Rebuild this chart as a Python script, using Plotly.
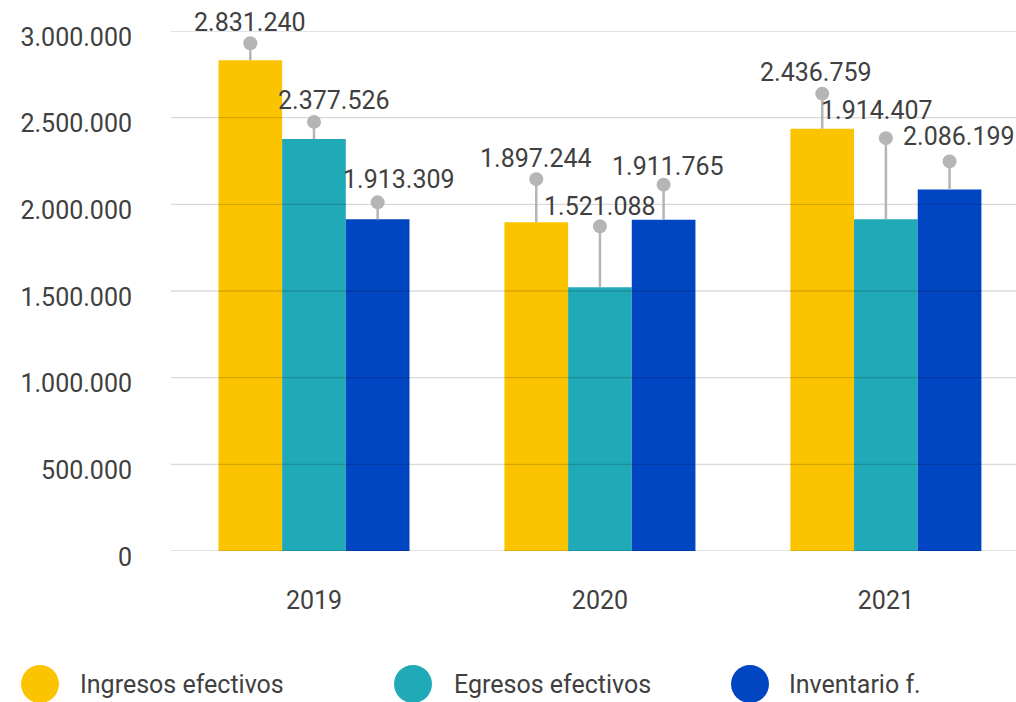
import plotly.graph_objects as go

# Cash flow by year
years = ["2019", "2020", "2021"]
ingresos = [2831240, 1897244, 2436759]
egresos = [2377526, 1521088, 1914407]
inventario = [1913309, 1911765, 2086199]

series_names = ["Ingresos efectivos", "Egresos efectivos", "Inventario f."]
series_colors = ["#FCC400", "#20A9B7", "#0045C1"]
y_ticks = [0, 500000, 1000000, 1500000, 2000000, 2500000, 3000000]

# Label placement (pixels above each bar top) and horizontal nudges, per year then series
label_lift = [[38, 38, 40], [64, 81, 53], [56, 109, 53]]
label_nudge = [[0, 20, 21], [0, 0, 4], [-6, -9, 9]]
dot_lift = [[18, 18, 18], [44, 62, 36], [36, 82, 29]]

W, H = 1016, 702
M_L, M_R, M_T, M_B = 171, 0, 31, 151
X_RANGE = [-0.5, 2.455]
BARGAP = 0.332
TEXT = "#404040"
FONT = "Roboto"


def fmt(v):
    return f"{v:,}".replace(",", ".")


plot_w = W - M_L - M_R
plot_h = H - M_T - M_B
bar_px = plot_w / (X_RANGE[1] - X_RANGE[0]) * (1 - BARGAP) / 3


def px_to_paper_x(px):
    return (px - M_L) / plot_w


def px_to_paper_y(py):
    return (H - M_B - py) / plot_h


fig = go.Figure()
all_values = [ingresos, egresos, inventario]
for name, vals, color in zip(series_names, all_values, series_colors):
    fig.add_trace(go.Bar(x=years, y=vals, name=name, marker=dict(color=color, line=dict(width=0)),
                         showlegend=False, hoverinfo="skip"))

annotations = []
for i, yr in enumerate(years):
    for j, vals in enumerate(all_values):
        shift = (j - 1) * bar_px
        # leader line with a round end (x given as the category index)
        annotations.append(dict(
            x=i, y=vals[i], xref="x", yref="y", xshift=shift,
            text=" ", font=dict(size=1), borderpad=0,
            showarrow=True, arrowside="start", startarrowhead=6, startarrowsize=1.4,
            arrowwidth=2.5, arrowcolor="#B5B5B5", ax=0, ay=-dot_lift[i][j],
        ))
        # value label
        annotations.append(dict(
            x=i, y=vals[i], xref="x", yref="y",
            xshift=shift + label_nudge[i][j], yshift=label_lift[i][j],
            text=fmt(vals[i]), showarrow=False, yanchor="middle", xanchor="center",
            font=dict(family=FONT, size=25, color=TEXT),
        ))

# legend drawn along the bottom
legend_circle_px = [40, 413, 750]
legend_text_px = [78, 452, 787]
legend_y_px = 684
shapes = []
for cx, color in zip(legend_circle_px, series_colors):
    shapes.append(dict(
        type="circle", xref="paper", yref="paper", xsizemode="pixel", ysizemode="pixel",
        xanchor=px_to_paper_x(cx), yanchor=px_to_paper_y(legend_y_px),
        x0=-19, x1=19, y0=-19, y1=19, fillcolor=color, line=dict(width=0),
    ))
for tx, name in zip(legend_text_px, series_names):
    annotations.append(dict(
        x=px_to_paper_x(tx), y=px_to_paper_y(legend_y_px), xref="paper", yref="paper",
        text=name, showarrow=False, xanchor="left", yanchor="middle",
        font=dict(family=FONT, size=25, color=TEXT),
    ))

# horizontal grid drawn over the bars
for t in y_ticks:
    shapes.append(dict(
        type="line", xref="x domain", yref="y", x0=0, x1=1, y0=t, y1=t,
        line=dict(color="rgba(0,0,0,0.15)", width=1.3), layer="above",
    ))

fig.update_layout(
    width=W, height=H,
    margin=dict(l=M_L, r=M_R, t=M_T, b=M_B),
    paper_bgcolor="white", plot_bgcolor="white",
    barmode="group", bargap=BARGAP, bargroupgap=0,
    font=dict(family=FONT, size=25, color=TEXT),
    annotations=annotations, shapes=shapes,
    xaxis=dict(type="category", range=X_RANGE, showgrid=False, showline=False, zeroline=False,
               ticks="", ticklabelstandoff=32, tickfont=dict(family=FONT, size=25, color=TEXT)),
    yaxis=dict(range=[0, 3000000], showgrid=False, zeroline=False, showline=False,
               tickvals=y_ticks, ticktext=[fmt(t) for t in y_ticks], ticks="",
               ticklabelstandoff=38, ticklabelshift=6,
               tickfont=dict(family=FONT, size=25, color=TEXT)),
)

fig.write_html("out.html")
